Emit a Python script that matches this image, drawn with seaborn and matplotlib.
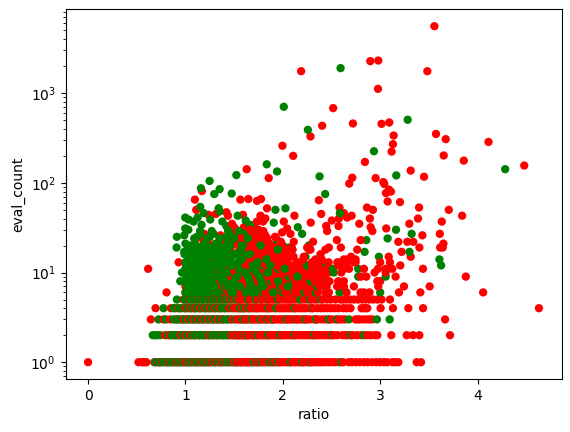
import matplotlib
matplotlib.use("Agg")
import matplotlib.pyplot as plt
import pandas as pd
import seaborn as sns

# Horizontal bands: ratios of the runs that share a small eval_count
red_1 = [0.0,0.518,0.552,0.57,0.585,0.6,0.69,0.73,0.77,0.82,0.85,0.9,0.93,0.96,1.0,1.03,1.06,1.09,1.12,1.15,1.18,1.21,1.24,1.27,1.31,1.35,1.38,1.42,1.46,1.5,1.53,1.56,1.59,1.62,1.65,1.68,1.72,1.75,1.8,1.84,1.88,1.92,1.97,2.02,2.06,2.1,2.14,2.18,2.215,2.26,2.301,2.35,2.387,2.44,2.5,2.58,2.678,2.747,2.833,2.918,2.997,3.038,3.125,3.186,3.375,3.419,
         1.515,1.545,1.575,1.605,1.635,1.665,1.7,1.735,1.775,1.82,1.86,1.9,1.945,1.99,2.04,2.08,2.12,2.16,2.2,2.24,2.28,2.325,2.37,2.41,2.47,2.54,2.62,2.71,2.79,2.87,2.96,3.07,3.15]
green_1 = [0.68,0.70,0.72,0.75,0.78,0.80,0.83,0.86,0.88,0.91,0.94,0.97,0.99,1.02,1.04,1.07,1.1,1.13,1.16,1.19,1.22,1.25,1.29,1.33,1.36,1.4,1.44,1.47,1.52,1.57,1.63,1.7,1.78,1.86,1.95,2.08,2.2,2.6,
           0.74,0.815,0.875,0.925,0.985,1.05,1.115,1.17,1.235,1.3,1.37,1.43,1.49,1.74,1.9,2.29]
red_2 = [0.79,0.84,0.9,0.95,1.0,1.05,1.09,1.14,1.19,1.24,1.28,1.33,1.38,1.43,1.47,1.5,1.53,1.56,1.59,1.62,1.65,1.69,1.72,1.76,1.8,1.83,1.87,1.91,1.95,1.99,2.03,2.07,2.11,2.16,2.2,2.25,2.29,2.336,2.38,2.421,2.47,2.524,2.61,2.695,2.867,2.943,3.114,3.272,3.337,3.402,3.717,
         1.52,1.545,1.575,1.61,1.635,1.67,1.705,1.74,1.78,1.815,1.85,1.89,1.93,1.97,2.01,2.05,2.09,2.135,2.18,2.225,2.27,2.31,2.36,2.4,2.445,2.49,2.56,2.64,2.66,2.72,2.76,2.8,2.9,2.97]
green_2 = [0.665,0.69,0.706,0.74,0.82,0.86,0.88,0.92,0.97,1.02,1.07,1.12,1.17,1.21,1.26,1.31,1.36,1.41,1.45,1.55,1.64,1.74,1.85,1.97,2.32,2.51,2.833,
           0.9,0.945,0.99,1.04,1.095,1.145,1.19,1.235,1.285,1.335,1.385,1.43,1.49,1.6,1.7,2.12,2.7]
red_3 = [0.645,0.775,0.844,0.92,0.98,1.03,1.08,1.13,1.18,1.23,1.28,1.33,1.38,1.43,1.48,1.53,1.57,1.61,1.66,1.7,1.74,1.79,1.83,1.88,1.92,1.97,2.01,2.06,2.1,2.15,2.2,2.25,2.318,2.36,2.438,2.5,2.541,2.61,2.747,2.826,2.918,3.666,
         1.55,1.59,1.635,1.68,1.72,1.765,1.81,1.855,1.9,1.945,1.99,2.035,2.08,2.125,2.175,2.225,2.28,2.34,2.4,2.47,2.58,2.64,2.77,2.79,2.86,2.89]
green_3 = [0.724,0.8,0.88,0.9,0.95,1.0,1.05,1.1,1.15,1.2,1.25,1.3,1.35,1.4,1.46,1.51,1.59,1.68,1.77,1.9,2.04,2.23,2.34,2.47,2.56,2.68,2.966,3.097,
           0.925,0.975,1.025,1.075,1.125,1.175,1.225,1.275,1.325,1.375,1.43,1.63,1.84,2.14]
red_4 = [0.693,0.85,0.93,1.0,1.05,1.1,1.15,1.2,1.25,1.3,1.35,1.4,1.45,1.5,1.54,1.58,1.62,1.67,1.71,1.76,1.8,1.84,1.89,1.96,2.0,2.05,2.09,2.14,2.19,2.215,2.277,2.353,2.421,2.49,2.569,2.654,2.695,2.809,2.867,3.004,3.131,3.289,3.44,4.63,
         1.52,1.56,1.6,1.645,1.69,1.735,1.78,1.82,1.865,1.92,1.98,2.025,2.07,2.115,2.165,2.24,2.31,2.39,2.455,2.53,2.62,2.83,2.85]
green_4 = [0.775,0.88,0.9,0.96,1.02,1.07,1.12,1.17,1.22,1.27,1.32,1.37,1.43,1.48,1.56,1.65,1.73,1.93,2.12,2.3,
           0.94,0.99,1.045,1.095,1.145,1.195,1.245,1.295,1.345,1.4,1.6,1.85]
red_5 = [0.98,1.04,1.09,1.13,1.18,1.23,1.27,1.32,1.36,1.41,1.46,1.5,1.54,1.58,1.62,1.66,1.7,1.74,1.79,1.83,1.88,1.92,1.97,2.02,2.06,2.1,2.15,2.215,2.294,2.49,2.541,2.593,2.654,2.73,2.815,2.928,3.014,3.1,
         1.56,1.6,1.64,1.68,1.72,1.765,1.81,1.855,1.9,1.945,1.995,2.04,2.08,2.125,2.18,2.25,2.33,2.36,2.41,2.45,2.62,2.69,2.77,2.85,2.89,2.97]
green_5 = [0.912,0.99,1.02,1.07,1.11,1.16,1.21,1.26,1.3,1.35,1.39,1.44,1.48,1.55,1.64,1.72,1.85,1.95,2.18,2.28,2.394,
           1.0,1.05,1.09,1.135,1.185,1.235,1.28,1.325,1.37,1.42,1.52,1.78]
red_6 = [0.806,1.0,1.06,1.1,1.16,1.22,1.28,1.33,1.39,1.44,1.5,1.55,1.6,1.66,1.72,1.77,1.82,1.87,1.93,1.98,2.03,2.09,2.13,2.19,2.25,2.3,2.36,2.438,2.473,2.654,2.798,2.833,2.891,3.193,3.412,4.057]
green_6 = [1.03,1.09,1.13,1.19,1.25,1.31,1.36,1.42,1.47,1.53,1.62,1.69,1.8,1.9,2.0,2.12,2.22,2.336,2.582,3.0]
red_7 = [1.0,1.05,1.12,1.18,1.24,1.3,1.37,1.43,1.49,1.56,1.62,1.68,1.74,1.8,1.86,1.93,2.0,2.06,2.11,2.17,2.23,2.3,2.38,2.45,2.558,2.627,2.73,2.98,3.244,3.508]
green_7 = [1.02,1.07,1.15,1.2,1.27,1.34,1.4,1.46,1.52,1.59,1.66,1.77,1.97,2.09,2.353]
red_8 = [1.06,1.14,1.21,1.29,1.36,1.44,1.51,1.58,1.64,1.71,1.78,1.84,1.91,1.99,2.05,2.13,2.2,2.27,2.33,2.41,2.48,2.569,2.627,2.97,3.0]
green_8 = [0.947,1.0,1.04,1.09,1.13,1.18,1.24,1.31,1.39,1.47,1.55,1.68,1.88,2.112,2.284]
red_9 = [1.11,1.2,1.3,1.38,1.47,1.55,1.62,1.7,1.77,1.83,1.9,1.96,2.03,2.1,2.17,2.22,2.3,2.36,2.43,2.802,2.857,3.158,3.879]
green_9 = [1.01,1.05,1.08,1.12,1.16,1.21,1.26,1.34,1.42,1.52,1.65,1.8,2.06,2.774,3.056]
red_10 = [1.14,1.24,1.35,1.43,1.51,1.59,1.67,1.74,1.8,1.87,1.94,2.0,2.07,2.16,2.24,2.33,2.41,2.47,2.6,2.942,3.056]
green_10 = [0.964,1.032,1.07,1.11,1.15,1.19,1.25,1.31,1.39,1.48,1.63,1.84,2.524]
red_11 = [0.617,1.17,1.28,1.39,1.47,1.56,1.64,1.72,1.78,1.85,1.92,1.98,2.05,2.12,2.21,2.3,2.335,2.387,2.45,2.63,2.68,2.833,2.977,3.056,3.124,3.439]
green_11 = [1.0,1.04,1.08,1.12,1.17,1.22,1.29,1.37,1.45,1.55,1.7,1.95,2.514,2.774]
red_12 = [1.13,1.22,1.32,1.43,1.53,1.6,1.68,1.75,1.83,1.9,1.96,2.03,2.1,2.18,2.3,2.39,2.438,2.57,2.65,3.206]
green_12 = [1.01,1.05,1.09,1.14,1.2,1.27,1.35,1.46,1.58,1.78,2.25,2.25,3.625]

# Runs with more evaluations, reds on the low-ratio side of the cloud
red_left_ratio = [0.93,1.1,1.19,1.27, 1.08,1.16,1.24,1.31, 1.13,1.21,1.29, 1.1,1.18,1.26, 1.17,1.24, 1.193,1.111,1.238,1.313,1.169,1.097]
red_left_count = [13,13,13,13, 15,15,15,15, 17,17,17, 20,20,20, 24,24, 27,50,44,45,81,65]

# Reds in the crowded middle of the cloud, partly hidden by greens
red_mid_ratio = [1.33,1.41,1.5,1.58,1.65,1.73,1.81,1.88,1.96,2.04,
                 1.36,1.46,1.54,1.62,1.71,1.79,1.87,1.94,2.03,
                 1.3,1.39,1.48,1.56,1.64,1.72,1.8,1.9,2.0,
                 1.35,1.44,1.53,1.61,1.69,1.78,1.86,1.95,
                 1.42,1.5,1.59,1.67,1.76,1.84,1.93,
                 1.36,1.46,1.55,1.63,1.73,1.82,
                 1.44,1.53,1.62,1.71,1.8,
                 1.5,1.6,1.7]
red_mid_count = [16,16,16,16,16,16,16,16,16,16,
                 17,17,17,17,17,17,17,17,17,
                 20,20,20,20,20,20,20,20,20,
                 21,21,21,21,21,21,21,21,
                 24,24,24,24,24,24,24,
                 26,26,26,26,26,26,
                 29,29,29,29,29,
                 32,32,32]

# Green runs across the whole cloud
green_ratio = [1.05,1.13,1.22,1.3,1.42,1.54,1.68,2.404,
               1.08,1.15,1.23,1.34,1.47,1.62,2.233,2.987,3.608,
               1.02,1.1,1.18,1.28,1.39,1.52,1.72,
               0.988,1.07,1.14,1.22,1.33,1.45,1.6,1.82,2.84,
               0.909,1.06,1.17,1.26,1.37,2.061,
               1.0,1.1,1.2,1.31,1.43,1.58,1.75,2.267,
               0.912,0.988,1.118,1.25,1.42,1.941,2.857,
               1.15,1.289,1.49,1.6,2.198,
               1.523,1.03,0.998,1.742,2.154,1.42,1.667,1.166]
green_count = [13,13,13,13,13,13,13,13,
               15,15,15,15,15,15,15,15,14,
               16,16,16,16,16,16,16,
               17,17,17,17,17,17,17,17,17,
               19,19,19,19,19,19,
               21,21,21,21,21,21,21,20,
               25,26,25,25,25,23,23,
               27,27,27,27,27,
               28,30,31,30,32,33,34,34]

# Reds that sit over the greens toward higher ratios
red_right_ratio = [1.6,1.7,1.78,1.85,1.92,2.0,2.15,2.3,2.38,2.47,2.56,2.593,2.65,2.73,2.747,3.0,3.1,
                   1.67,1.76,1.83,1.9,1.98,2.05,2.21,2.335,2.4,2.627,2.661,2.72,2.747,
                   1.69,1.75,1.82,1.89,1.96,2.02,2.11,2.215,2.7,
                   1.66,1.74,1.8,1.87,1.95,2.03,2.1,2.267,2.438,2.764,3.087,3.22,3.313,
                   1.64,1.72,1.79,1.86,1.93,2.0,2.09,2.25,2.284,2.473,2.596,
                   1.6,1.68,1.77,1.84,1.98,2.112,2.311,2.387,2.555,2.799,3.186,3.278,3.34,3.402,3.615,3.642,3.649,
                   1.56,1.7,1.8,1.92,1.992,2.078,3.433,3.612,
                   1.52,1.67,1.75,2.044,2.287,2.445,2.455,2.572,2.785,2.902,2.919,3.062,3.299,3.632,
                   1.478,1.735,1.797,2.01,2.503,2.576,2.394,2.627,2.661,2.706,
                   1.437,1.591,1.77,1.821,2.119,1.42,1.838,2.582,2.864,2.925,3.388,2.894,3.399,3.704,3.841]
red_right_count = [13,13,13,13,13,13,13,13,13,13,13,13,13,13,13,13,13,
                   14,14,14,14,14,14,14,14,14,14,14,14,14,
                   15,15,15,15,15,15,15,15,15,
                   18,18,18,18,18,18,18,18,18,18,15,17,15,
                   19,19,19,19,19,19,19,19,18,19,19,
                   22,22,22,22,22,22,22,16,23,23,22,22,22,19,19,19,21,
                   25,25,25,25,28,27,26,27,
                   30,30,30,31,36,33,29,33,35,32,29,31,35,37,
                   35,37,37,37,38,40,45,46,41,43,
                   43,44,43,40,43,47,52,53,53,50,40,40,53,50,43]

# Greens left on top: the solid block near ratio 1.1 and specks further right
green_over_ratio = [1.0,1.04,1.08,1.12,1.16,1.2,1.24,1.33,1.49,1.62,1.72,1.9,
                    1.02,1.06,1.1,1.14,1.18,1.23,1.3,1.44,1.56,1.68,1.8,2.05,
                    1.01,1.05,1.09,1.13,1.17,1.21,1.27,1.38,1.5,1.66,1.78,1.95,
                    1.03,1.07,1.11,1.15,1.19,1.25,1.35,1.53,1.64,1.76,2.15,
                    1.0,1.05,1.1,1.15,1.2,1.28,1.42,1.61,1.73,1.85,
                    1.04,1.09,1.14,1.19,1.26,1.37,1.55,1.69,2.02,
                    1.02,1.08,1.13,1.18,1.24,1.33,1.47,1.7,1.87,
                    1.0,1.06,1.12,1.17,1.3,1.41,1.54,1.74,
                    1.04,1.1,1.2,1.36,1.46,1.58,1.83,
                    0.99,1.07,1.16,1.24,1.36,1.52,1.66,
                    1.02,1.13,1.28,1.4,1.57,1.95,
                    1.05,1.18,1.34,1.46,1.59,1.77,
                    1.09,1.22,1.35,1.5,1.64,
                    1.15,1.27,1.44,1.55]
green_over_count = [6,6,6,6,6,6,6,6,6,6,6,6,
                    7,7,7,7,7,7,7,7,7,7,7,7,
                    8,8,8,8,8,8,8,8,8,8,8,8,
                    9,9,9,9,9,9,9,9,9,9,9,
                    10,10,10,10,10,10,10,10,10,10,
                    11,11,11,11,11,11,11,11,11,
                    12,12,12,12,12,12,12,12,12,
                    13,13,13,13,13,13,13,13,
                    14,14,14,14,14,14,14,
                    16,16,16,16,16,16,16,
                    18,18,18,18,18,18,
                    20,20,20,20,20,20,
                    24,24,24,24,24,
                    29,29,29,29]

# The sparse high-count runs
top_red_ratio = [3.556,2.898,2.98,2.188,3.484,2.977,2.517,2.404,2.72,3.014,3.093,3.138,2.284,3.131,3.117,1.996,2.106,3.573,3.673,4.112,3.652,3.858,4.479,2.843,3.313,3.45,1.629,1.855,2.713,2.682,2.953,3.032,3.042,3.059,3.09,3.11,1.564,1.646,1.776,1.735,2.37,3.076,3.203]
top_red_count = [5580,2275,2310,1757,1757,1118,681,433,459,455,471,337,329,270,223,259,200,351,307,286,202,177,156,171,137,117,142,113,114,98,113,102,97,77,84,80,65,66,66,63,64,62,61]
top_green_ratio = [2.593,2.01,2.257,3.282,2.936,4.283,1.835,1.941,1.523,2.377,3.165,1.248,1.159,1.296,1.351,1.475,2.435,1.152,1.341,1.351,1.187,1.536,1.924,2.027,0.998,1.032,1.084,1.125,1.255,1.379,1.619,1.907,2.586,3.162,3.076,3.323,3.3]
top_green_count = [1900,705,390,505,225,142,161,134,122,118,121,105,87,75,85,76,75,54,52,48,46,43,50,52,41,39,37,41,39,37,38,36,46,30,24,27,17]

RED, GREEN = "red", "green"


def band(count, reds, greens):
    """One eval_count row, painted left to right."""
    rows = [(r, count, RED) for r in reds] + [(r, count, GREEN) for r in greens]
    return sorted(rows, key=lambda row: row[0])


def scatter_rows(ratios, counts, status):
    return [(r, c, status) for r, c in zip(ratios, counts, strict=True)]


records = []
for count, reds, greens in [
    (1, red_1, green_1), (2, red_2, green_2), (3, red_3, green_3),
    (4, red_4, green_4), (5, red_5, green_5), (6, red_6, green_6),
    (7, red_7, green_7), (8, red_8, green_8), (9, red_9, green_9),
    (10, red_10, green_10), (11, red_11, green_11), (12, red_12, green_12),
]:
    records += band(count, reds, greens)
records += scatter_rows(red_left_ratio, red_left_count, RED)
records += scatter_rows(red_mid_ratio, red_mid_count, RED)
records += scatter_rows(green_ratio, green_count, GREEN)
records += scatter_rows(red_right_ratio, red_right_count, RED)
records += scatter_rows(green_over_ratio, green_over_count, GREEN)
records += scatter_rows(top_red_ratio, top_red_count, RED)
records += scatter_rows(top_green_ratio, top_green_count, GREEN)

runs = pd.DataFrame(records, columns=["ratio", "eval_count", "status"])

fig = plt.figure(figsize=(5.7, 4.32), dpi=100)
ax = fig.add_axes([65.5 / 570, (432 - 379) / 432, 496 / 570, 369.6 / 432])
sns.scatterplot(
    data=runs, x="ratio", y="eval_count", hue="status",
    palette={RED: "red", GREEN: "green"},
    s=20, edgecolor="face", linewidth=1.5, legend=False, ax=ax,
)
ax.set_yscale("log")
fig.savefig("out.png", dpi=100)
